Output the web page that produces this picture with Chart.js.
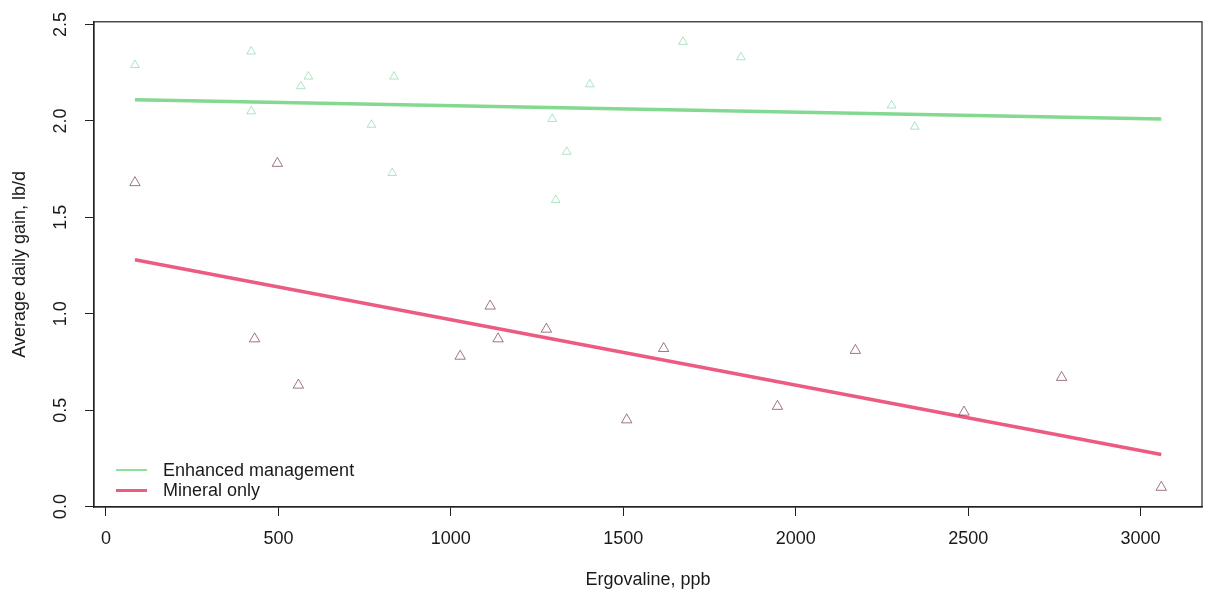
<!DOCTYPE html>
<html>
<head>
<meta charset="utf-8">
<script src="https://cdn.jsdelivr.net/npm/chart.js@4.4.1/dist/chart.umd.min.js"></script>
<style>
    body { margin: 0; background: #ffffff; }
    #wrap { position: relative; width: 1209px; height: 592px; }
    #legend {
        position: absolute;
        left: 116px;
        top: 460px;
        font-family: "Liberation Sans", Arial, sans-serif;
        font-size: 18px;
        color: #1a1a1a;
        line-height: 20px;
    }
    #legend .item { display: flex; align-items: center; height: 20px; }
    #legend .swatch { display: inline-block; width: 31px; margin-right: 16px; }
    #legend .green { height: 2px; background: #8fe09c; }
    #legend .red { height: 3px; background: #ec5c80; }
</style>
</head>
<body>
<div id="wrap">
    <canvas id="adg-chart"></canvas>
    <div id="legend">
        <div class="item"><span class="swatch green"></span>Enhanced management</div>
        <div class="item"><span class="swatch red"></span>Mineral only</div>
    </div>
</div>
<script>
// values
var mineralX = [84, 431, 497, 558, 1027, 1114, 1137, 1277, 1510, 1617, 1947, 2173, 2488, 2771, 3060];
var mineralY = [1.68, 0.87, 1.78, 0.63, 0.78, 1.04, 0.87, 0.92, 0.45, 0.82, 0.52, 0.81, 0.49, 0.67, 0.10];

var enhancedX = [84, 421, 421, 565, 587, 770, 830, 835, 1294, 1304, 1336, 1403, 1673, 1841, 2278, 2345];
var enhancedY = [2.29, 2.36, 2.05, 2.18, 2.23, 1.98, 1.73, 2.23, 2.01, 1.59, 1.84, 2.19, 2.41, 2.33, 2.08, 1.97];

// fitted lines (end points)
var enhancedFitX = [84, 3060];
var enhancedFitY = [2.11, 2.01];
var mineralFitX = [84, 3060];
var mineralFitY = [1.28, 0.27];

var xTicks = [0, 500, 1000, 1500, 2000, 2500, 3000];
var yTicks = [0, 0.5, 1.0, 1.5, 2.0, 2.5];

function toPoints(xs, ys) {
    return xs.map(function (x, i) { return { x: x, y: ys[i] }; });
}

var axisFont = { family: "'Liberation Sans', Arial, sans-serif", size: 18 };
var inkColor = "#1a1a1a";

// R style box round the plot area
var boxPlugin = {
    id: "plotBox",
    afterDraw: function (chart) {
        var a = chart.chartArea;
        var ctx = chart.ctx;
        ctx.save();
        ctx.strokeStyle = "#222222";
        ctx.lineWidth = 1.2;
        ctx.strokeRect(a.left, a.top, a.right - a.left, a.bottom - a.top);
        ctx.restore();
    }
};

new Chart(
    document.getElementById("adg-chart"),
    {
        type: "scatter",
        data: {
            datasets: [
                {
                    label: "Enhanced management",
                    data: toPoints(enhancedX, enhancedY),
                    pointStyle: "triangle",
                    pointRadius: 5,
                    borderWidth: 1,
                    borderColor: "rgba(110, 205, 150, 0.55)",
                    backgroundColor: "rgba(0, 0, 0, 0)"
                },
                {
                    label: "Mineral only",
                    data: toPoints(mineralX, mineralY),
                    pointStyle: "triangle",
                    pointRadius: 6,
                    borderWidth: 1,
                    borderColor: "rgba(120, 60, 80, 0.7)",
                    backgroundColor: "rgba(0, 0, 0, 0)"
                },
                {
                    label: "Enhanced fit",
                    type: "line",
                    data: toPoints(enhancedFitX, enhancedFitY),
                    borderColor: "#84d990",
                    borderWidth: 3.5,
                    pointRadius: 0,
                    fill: false
                },
                {
                    label: "Mineral fit",
                    type: "line",
                    data: toPoints(mineralFitX, mineralFitY),
                    borderColor: "#ec5c80",
                    borderWidth: 3.5,
                    pointRadius: 0,
                    fill: false
                }
            ]
        },
        options: {
            responsive: true,
            maintainAspectRatio: false,
            animation: false,
            layout: {
                padding: { top: 19, right: 3, left: 0, bottom: 0 }
            },
            scales: {
                x: {
                    type: "linear",
                    min: -34.7,
                    max: 3178,
                    afterBuildTicks: function (axis) {
                        axis.ticks = xTicks.map(function (v) { return { value: v }; });
                    },
                    afterFit: function (axis) { axis.height = 85; },
                    grid: { drawOnChartArea: false, drawTicks: true, tickLength: 9, color: "#222222" },
                    border: { display: true, color: "#222222", width: 1.2 },
                    ticks: {
                        font: axisFont,
                        color: inkColor,
                        padding: 12,
                        maxRotation: 0,
                        callback: function (v) { return String(v); }
                    },
                    title: {
                        display: true,
                        text: "Ergovaline, ppb",
                        font: axisFont,
                        color: inkColor,
                        padding: { top: 0, bottom: 1 }
                    }
                },
                y: {
                    type: "linear",
                    min: -0.002,
                    max: 2.514,
                    afterBuildTicks: function (axis) {
                        axis.ticks = yTicks.map(function (v) { return { value: v }; });
                    },
                    afterFit: function (axis) { axis.width = 94; },
                    grid: { drawOnChartArea: false, drawTicks: true, tickLength: 9, color: "#222222" },
                    border: { display: true, color: "#222222", width: 1.2 },
                    ticks: {
                        font: axisFont,
                        color: inkColor,
                        padding: 11,
                        minRotation: 90,
                        maxRotation: 90,
                        crossAlign: "center",
                        callback: function (v) { return v.toFixed(1); }
                    },
                    title: {
                        display: true,
                        text: "Average daily gain, lb/d",
                        font: axisFont,
                        color: inkColor,
                        padding: { top: 9, bottom: 0 }
                    }
                }
            },
            plugins: {
                legend: { display: false },
                tooltip: { enabled: false }
            }
        },
        plugins: [boxPlugin]
    }
);
</script>
</body>
</html>
